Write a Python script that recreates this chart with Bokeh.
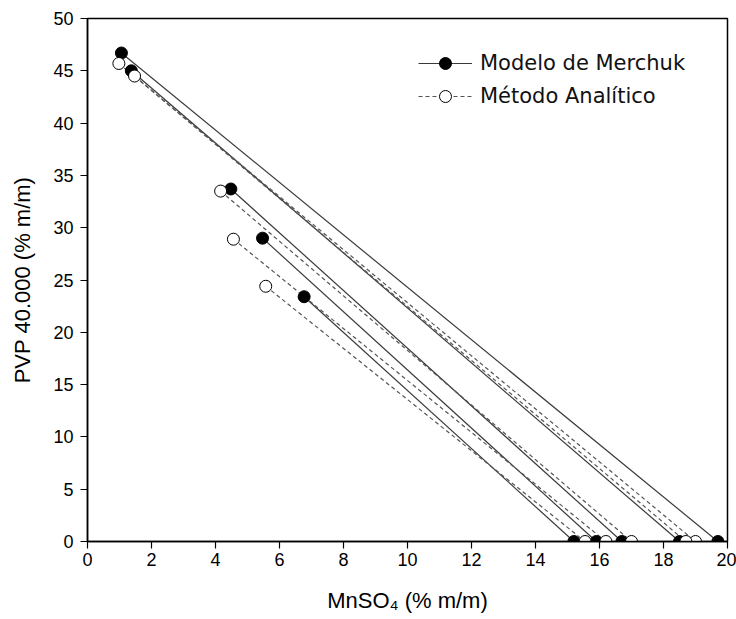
from bokeh.plotting import figure
from bokeh.models import Legend, LegendItem, Range1d, ColumnDataSource
from bokeh.embed import file_html
from bokeh.resources import INLINE

# Tie lines: top-phase composition (x, y) and bottom-phase MnSO4 (y = 0)
merchuk_x_top = [1.06, 1.37, 4.48, 5.47, 6.77]
merchuk_y_top = [46.7, 45.0, 33.7, 29.0, 23.4]
merchuk_x_bot = [19.7, 18.5, 16.7, 15.9, 15.2]
merchuk_y_bot = [0, 0, 0, 0, 0]

analytic_x_top = [0.98, 1.47, 4.16, 4.56, 5.57]
analytic_y_top = [45.7, 44.5, 33.5, 28.9, 24.4]
analytic_x_bot = [19.0, 18.7, 17.0, 16.2, 15.55]
analytic_y_bot = [0, 0, 0, 0, 0]

x_ticks = [0, 2, 4, 6, 8, 10, 12, 14, 16, 18, 20]
y_ticks = [0, 5, 10, 15, 20, 25, 30, 35, 40, 45, 50]

p = figure(width=736, height=619, output_backend="svg", toolbar_location=None,
           x_range=Range1d(0, 20), y_range=Range1d(0, 50),
           min_border_left=87, min_border_right=9, min_border_top=18, min_border_bottom=78)

p.grid.visible = False
p.outline_line_color = "black"
p.outline_line_width = 1.5
p.background_fill_color = "white"
p.border_fill_color = "white"

for ax in (p.xaxis[0], p.yaxis[0]):
    ax.axis_line_color = "black"
    ax.axis_line_width = 1.5
    ax.major_tick_line_color = "black"
    ax.minor_tick_line_color = "black"
    ax.major_tick_line_width = 1.2
    ax.minor_tick_line_width = 1.2
    ax.major_tick_out = 7
    ax.major_tick_in = 0
    ax.minor_tick_out = 4
    ax.minor_tick_in = 0
    ax.major_label_text_font = "Liberation Sans"
    ax.major_label_text_font_size = "18px"
    ax.major_label_text_color = "black"
    ax.axis_label_text_font = "Liberation Sans"
    ax.axis_label_text_font_size = "22px"
    ax.axis_label_text_font_style = "normal"
    ax.axis_label_text_color = "black"

p.xaxis.ticker = x_ticks
p.yaxis.ticker = y_ticks
p.xaxis[0].ticker.num_minor_ticks = 2
p.yaxis[0].ticker.num_minor_ticks = 2
p.xaxis.axis_label = "MnSO₄ (% m/m)"
p.yaxis.axis_label = "PVP 40.000 (% m/m)"
p.xaxis.major_label_standoff = 4
p.yaxis.major_label_standoff = 7
p.xaxis.axis_label_standoff = 19
p.yaxis.axis_label_standoff = 15

src_m = ColumnDataSource(dict(x0=merchuk_x_top, y0=merchuk_y_top, x1=merchuk_x_bot, y1=merchuk_y_bot))
src_a = ColumnDataSource(dict(x0=analytic_x_top, y0=analytic_y_top, x1=analytic_x_bot, y1=analytic_y_bot))

seg_m = p.segment("x0", "y0", "x1", "y1", source=src_m, line_color="#3a3a3a", line_width=1.2)
seg_a = p.segment("x0", "y0", "x1", "y1", source=src_a, line_color="#555555", line_width=1.2,
                  line_dash="4 3")

pts_m = p.scatter(merchuk_x_top + merchuk_x_bot, merchuk_y_top + merchuk_y_bot,
                  size=12, marker="circle", fill_color="black", line_color="black", line_width=1)
pts_a = p.scatter(analytic_x_top + analytic_x_bot, analytic_y_top + analytic_y_bot,
                  size=12, marker="circle", fill_color="white", line_color="black", line_width=1)

legend = Legend(items=[
    LegendItem(label="Modelo de Merchuk", renderers=[seg_m, pts_m]),
    LegendItem(label="Método Analítico", renderers=[seg_a, pts_a]),
], location=(331, 430))
legend.border_line_color = None
legend.background_fill_alpha = 0
legend.padding = 0
legend.margin = 0
legend.spacing = 3
legend.glyph_width = 54
legend.glyph_height = 30
legend.label_height = 30
legend.label_standoff = 8
legend.label_text_font = "DejaVu Sans"
legend.label_text_font_size = "21px"
legend.label_text_color = "#111111"
p.add_layout(legend)

open("out.html", "w").write(file_html(p, INLINE))
